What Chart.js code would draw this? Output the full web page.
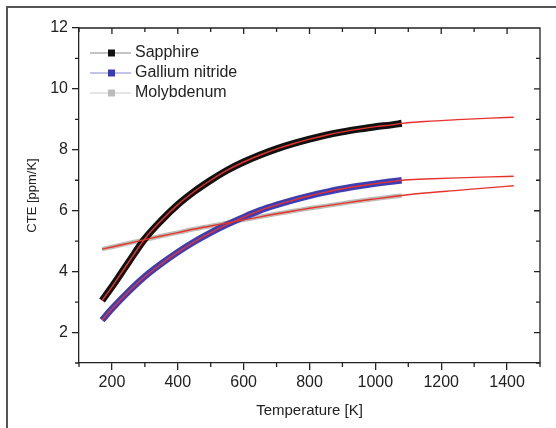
<!DOCTYPE html>
<html>
<head>
<meta charset="utf-8">
<script src="https://cdn.jsdelivr.net/npm/chart.js@4.4.0/dist/chart.umd.min.js"></script>
<style>
  html, body { margin: 0; padding: 0; background: #fff; }
  #wrap { width: 556px; height: 428px; position: relative; }
</style>
</head>
<body>
<div id="wrap"><canvas id="cteChart" width="556" height="428"></canvas></div>
<script>
const tempK = [170, 200, 250, 300, 350, 400, 450, 500, 550, 600, 650, 700, 750, 800, 850, 900, 950, 1000, 1050, 1080];
const sapphire = [3.05, 3.5, 4.3, 5.08, 5.68, 6.2, 6.63, 7.0, 7.33, 7.6, 7.83, 8.03, 8.2, 8.35, 8.48, 8.59, 8.68, 8.76, 8.82, 8.87];
const galliumNitride = [2.41, 2.78, 3.34, 3.84, 4.26, 4.64, 4.98, 5.28, 5.55, 5.79, 6.01, 6.19, 6.35, 6.49, 6.61, 6.72, 6.81, 6.89, 6.96, 7.0];
const molybdenum = [4.74, 4.81, 4.93, 5.05, 5.17, 5.28, 5.4, 5.5, 5.6, 5.7, 5.8, 5.9, 5.99, 6.08, 6.16, 6.24, 6.32, 6.39, 6.46, 6.5];

// fitted curves continue past the measurements
const fitExtraK = [1150, 1250, 1350, 1420];
const sapphireFitExtra = [8.93, 8.99, 9.04, 9.07];
const galliumNitrideFitExtra = [7.04, 7.08, 7.11, 7.13];
const molybdenumFitExtra = [6.58, 6.67, 6.76, 6.82];

const xTicks = [200, 400, 600, 800, 1000, 1200, 1400];
const xMinorTicks = [100, 300, 500, 700, 900, 1100, 1300, 1500];
const yTicks = [2, 4, 6, 8, 10, 12];
const yMinorTicks = [1, 3, 5, 7, 9, 11];

const FONT = '"Liberation Sans", Arial, Helvetica, sans-serif';
const INK = '#222';
const FIT_RED = '#e8322b';

function pts(xs, ys) {
    return xs.map((x, i) => ({ x: x, y: ys[i] }));
}
const fitK = tempK.concat(fitExtraK);

const legendItems = [
    { label: 'Sapphire', fill: '#111', line: '#888' },
    { label: 'Gallium nitride', fill: '#3b3bb0', line: '#8a8ad0' },
    { label: 'Molybdenum', fill: '#bbb', line: '#ccc' },
];

const frameAndTicks = {
    id: 'frameAndTicks',
    beforeDraw(chart) {
        const ctx = chart.ctx;
        ctx.save();
        ctx.strokeStyle = '#555';
        ctx.lineWidth = 2;
        ctx.beginPath();
        ctx.moveTo(7, 428);
        ctx.lineTo(7, 7);
        ctx.lineTo(556, 7);
        ctx.stroke();
        ctx.restore();
    },
    afterDraw(chart) {
        const { ctx, chartArea: a } = chart;
        const x = chart.scales.x;
        const y = chart.scales.y;
        ctx.save();
        ctx.strokeStyle = INK;
        ctx.lineWidth = 1.3;
        ctx.beginPath();
        ctx.moveTo(a.left, a.top);
        ctx.lineTo(a.right, a.top);
        ctx.lineTo(a.right, a.bottom);
        x.ticks.forEach(t => {
            const px = x.getPixelForValue(t.value);
            ctx.moveTo(px, a.top);
            ctx.lineTo(px, a.top + 6);
        });
        xMinorTicks.forEach(v => {
            const px = x.getPixelForValue(v);
            ctx.moveTo(px, a.top);
            ctx.lineTo(px, a.top + 4);
            ctx.moveTo(px, a.bottom);
            ctx.lineTo(px, a.bottom + 4);
        });
        y.ticks.forEach(t => {
            const py = y.getPixelForValue(t.value);
            ctx.moveTo(a.right, py);
            ctx.lineTo(a.right - 6, py);
        });
        yMinorTicks.forEach(v => {
            const py = y.getPixelForValue(v);
            ctx.moveTo(a.left, py);
            ctx.lineTo(a.left - 4, py);
            ctx.moveTo(a.right, py);
            ctx.lineTo(a.right - 4, py);
        });
        ctx.stroke();

        // legend in the upper left of the plot
        ctx.font = '16px ' + FONT;
        ctx.textBaseline = 'middle';
        legendItems.forEach((item, i) => {
            const ly = 53 + i * 20;
            ctx.strokeStyle = item.line;
            ctx.lineWidth = 1;
            ctx.beginPath();
            ctx.moveTo(90, ly);
            ctx.lineTo(131, ly);
            ctx.stroke();
            ctx.fillStyle = item.fill;
            ctx.fillRect(108, ly - 3.5, 7, 7);
            ctx.fillStyle = INK;
            ctx.fillText(item.label, 135, ly);
        });
        ctx.restore();
    }
};

function band(data, color, width, order) {
    return {
        data: data,
        borderColor: color,
        borderWidth: width,
        pointRadius: 0,
        cubicInterpolationMode: 'monotone',
        borderCapStyle: 'butt',
        order: order,
    };
}
function fit(data) {
    return {
        data: data,
        borderColor: FIT_RED,
        borderWidth: 1.4,
        pointRadius: 0,
        cubicInterpolationMode: 'monotone',
        order: 0,
    };
}

new Chart(document.getElementById('cteChart'), {
    type: 'line',
    data: {
        datasets: [
            band(pts(tempK, sapphire), '#111', 7, 1),
            band(pts(tempK, galliumNitride), '#3d3db4', 6.5, 2),
            band(pts(tempK, molybdenum), '#bdbdb6', 4.5, 3),
            fit(pts(fitK, sapphire.concat(sapphireFitExtra))),
            fit(pts(fitK, galliumNitride.concat(galliumNitrideFitExtra))),
            fit(pts(fitK, molybdenum.concat(molybdenumFitExtra))),
        ],
    },
    options: {
        responsive: false,
        animation: false,
        devicePixelRatio: 1,
        layout: { padding: { top: 28, right: 16, bottom: 0, left: 0 } },
        plugins: {
            legend: { display: false },
            tooltip: { enabled: false },
        },
        scales: {
            x: {
                type: 'linear',
                min: 100,
                max: 1500,
                afterBuildTicks: s => { s.ticks = xTicks.map(v => ({ value: v })); },
                afterFit: s => { s.height = 65; },
                ticks: { color: INK, font: { size: 16, family: FONT }, padding: 3, maxRotation: 0, autoSkip: false, callback: v => String(v) },
                grid: { drawOnChartArea: false, drawTicks: true, tickLength: 7, color: INK, lineWidth: 1.3 },
                border: { display: true, color: INK, width: 1.3 },
                title: { display: true, text: 'Temperature [K]', color: INK, font: { size: 15, family: FONT }, padding: { top: 0, bottom: 8 } },
            },
            y: {
                type: 'linear',
                min: 1,
                max: 12,
                afterBuildTicks: s => { s.ticks = yTicks.map(v => ({ value: v })); },
                afterFit: s => { s.width = 79; },
                ticks: { color: INK, font: { size: 16, family: FONT }, padding: 4, callback: v => String(v) },
                grid: { drawOnChartArea: false, drawTicks: true, tickLength: 7, color: INK, lineWidth: 1.3 },
                border: { display: true, color: INK, width: 1.3 },
                title: { display: true, text: 'CTE [ppm/K]', color: INK, font: { size: 13, family: FONT }, padding: { top: 25, bottom: 0 } },
            },
        },
    },
    plugins: [frameAndTicks],
});
</script>
</body>
</html>
